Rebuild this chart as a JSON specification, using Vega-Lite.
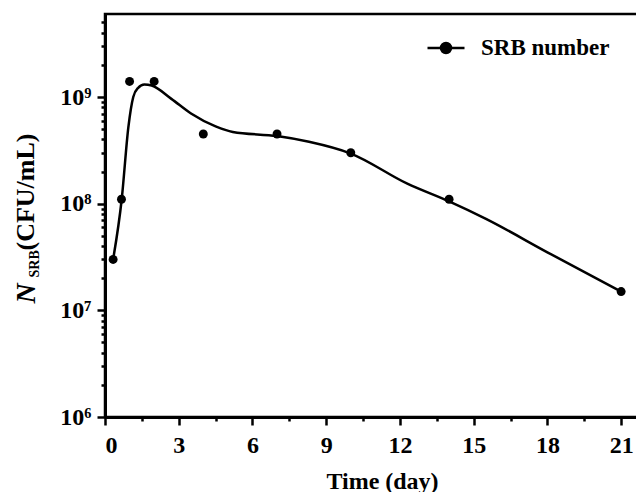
{
  "$schema": "https://vega.github.io/schema/vega-lite/v6.json",
  "width": 553,
  "height": 403,
  "autosize": {"type": "none"},
  "padding": {"left": 105, "top": 14, "right": 0, "bottom": 75},
  "background": "white",
  "config": {
    "font": "Liberation Serif",
    "view": {"stroke": "black", "strokeWidth": 2.5},
    "axis": {
      "labelFont": "Liberation Serif",
      "labelFontWeight": "bold",
      "labelFontSize": 24,
      "labelColor": "black",
      "titleFont": "Liberation Serif",
      "titleFontWeight": "bold",
      "titleFontSize": 24,
      "titleColor": "black",
      "domainColor": "black",
      "tickColor": "black",
      "grid": false
    }
  },
  "datasets": {
    "points": [
      {"t": 0.33, "n": 30000000},
      {"t": 0.67, "n": 110000000},
      {"t": 1, "n": 1400000000},
      {"t": 2, "n": 1400000000},
      {"t": 4, "n": 450000000},
      {"t": 7, "n": 450000000},
      {"t": 10, "n": 300000000},
      {"t": 14, "n": 110000000},
      {"t": 21, "n": 15000000}
    ],
    "curve": [
      {"t": 0.33, "n": 30000000},
      {"t": 0.68, "n": 110000000},
      {"t": 0.95, "n": 520000000},
      {"t": 1.15, "n": 1000000000},
      {"t": 1.35, "n": 1220000000},
      {"t": 1.6, "n": 1310000000},
      {"t": 1.9, "n": 1280000000},
      {"t": 2.7, "n": 960000000},
      {"t": 3.5, "n": 700000000},
      {"t": 4.5, "n": 530000000},
      {"t": 5.2, "n": 470000000},
      {"t": 7, "n": 430000000},
      {"t": 8.3, "n": 380000000},
      {"t": 10, "n": 295000000},
      {"t": 12.3, "n": 154000000},
      {"t": 14, "n": 105000000},
      {"t": 15.5, "n": 72000000},
      {"t": 18, "n": 35000000},
      {"t": 21, "n": 15000000}
    ]
  },
  "layer": [
    {
      "data": {"name": "curve"},
      "mark": {"type": "line", "interpolate": "monotone", "color": "black", "strokeWidth": 2.5},
      "encoding": {
        "x": {
          "field": "t", "type": "quantitative",
          "scale": {"domain": [0, 22.5], "nice": false, "zero": false},
          "axis": {
            "orient": "bottom", "values": [0, 3, 6, 9, 12, 15, 18, 21], "format": "d",
            "tickSize": 8, "tickWidth": 2.5, "domainWidth": 3, "labelPadding": 8,
            "title": "Time (day)", "titleX": 277, "titleY": 71,
            "titleBaseline": "alphabetic", "titleAlign": "center"
          }
        },
        "y": {
          "field": "n", "type": "quantitative",
          "scale": {"type": "log", "domain": [1000000, 6000000000], "nice": false},
          "axis": {
            "orient": "left", "values": [1000000, 10000000, 100000000, 1000000000],
            "labelExpr": "datum.value < 2000000 ? '10⁶' : datum.value < 20000000 ? '10⁷' : datum.value < 200000000 ? '10⁸' : '10⁹'",
            "tickSize": 8, "tickWidth": 2.5, "domainWidth": 3, "labelPadding": 6,
            "title": "(CFU/mL)", "titleFontSize": 26, "titleX": -72, "titleY": 236,
            "titleAlign": "left", "titleBaseline": "alphabetic", "titleAngle": -90
          }
        }
      }
    },
    {
      "data": {"name": "points"},
      "mark": {"type": "point", "filled": true, "size": 80, "opacity": 1},
      "encoding": {
        "x": {
          "field": "t", "type": "quantitative",
          "scale": {"domain": [0, 22.5], "nice": false, "zero": false},
          "axis": {
            "orient": "bottom", "values": [1.5, 4.5, 7.5, 10.5, 13.5, 16.5, 19.5],
            "labels": false, "domain": false, "tickSize": 4, "tickWidth": 2.5, "title": null
          }
        },
        "y": {
          "field": "n", "type": "quantitative",
          "scale": {"type": "log", "domain": [1000000, 6000000000], "nice": false},
          "axis": {
            "orient": "left",
            "values": [2000000, 3000000, 4000000, 5000000, 6000000, 7000000, 8000000, 9000000,
                       20000000, 30000000, 40000000, 50000000, 60000000, 70000000, 80000000, 90000000,
                       200000000, 300000000, 400000000, 500000000, 600000000, 700000000, 800000000, 900000000,
                       2000000000, 3000000000, 4000000000, 5000000000],
            "labels": false, "domain": false, "tickSize": 4, "tickWidth": 2.5,
            "title": "SRB", "titleFontSize": 14, "titleX": -67, "titleY": 263,
            "titleAlign": "left", "titleBaseline": "alphabetic", "titleAngle": -90
          }
        },
        "color": {
          "datum": "SRB number",
          "scale": {"range": ["black"]},
          "legend": {
            "orient": "none", "legendX": 321, "legendY": 14, "padding": 0,
            "title": null,
            "symbolType": "M-1,0L1,0M-0.27,0A0.27,0.27 0 1,1 0.27,0A0.27,0.27 0 1,1 -0.27,0Z",
            "symbolSize": 1369, "symbolStrokeWidth": 2.5,
            "symbolFillColor": "black", "symbolStrokeColor": "black", "symbolOpacity": 1,
            "labelFont": "Liberation Serif", "labelFontWeight": "bold", "labelFontSize": 23,
            "labelColor": "black", "labelOffset": 15
          }
        }
      }
    },
    {
      "data": {"name": "points"},
      "mark": {"type": "point", "opacity": 0},
      "encoding": {
        "x": {
          "field": "t", "type": "quantitative",
          "scale": {"domain": [0, 22.5], "nice": false, "zero": false},
          "axis": null
        },
        "y": {
          "field": "n", "type": "quantitative",
          "scale": {"type": "log", "domain": [1000000, 6000000000], "nice": false},
          "axis": {
            "orient": "left", "values": [], "labels": false, "domain": false, "ticks": false,
            "title": "N", "titleFontSize": 28, "titleFontStyle": "italic",
            "titleX": -71, "titleY": 289,
            "titleAlign": "left", "titleBaseline": "alphabetic", "titleAngle": -90
          }
        }
      }
    }
  ],
  "resolve": {"axis": {"x": "independent", "y": "independent"}}
}
